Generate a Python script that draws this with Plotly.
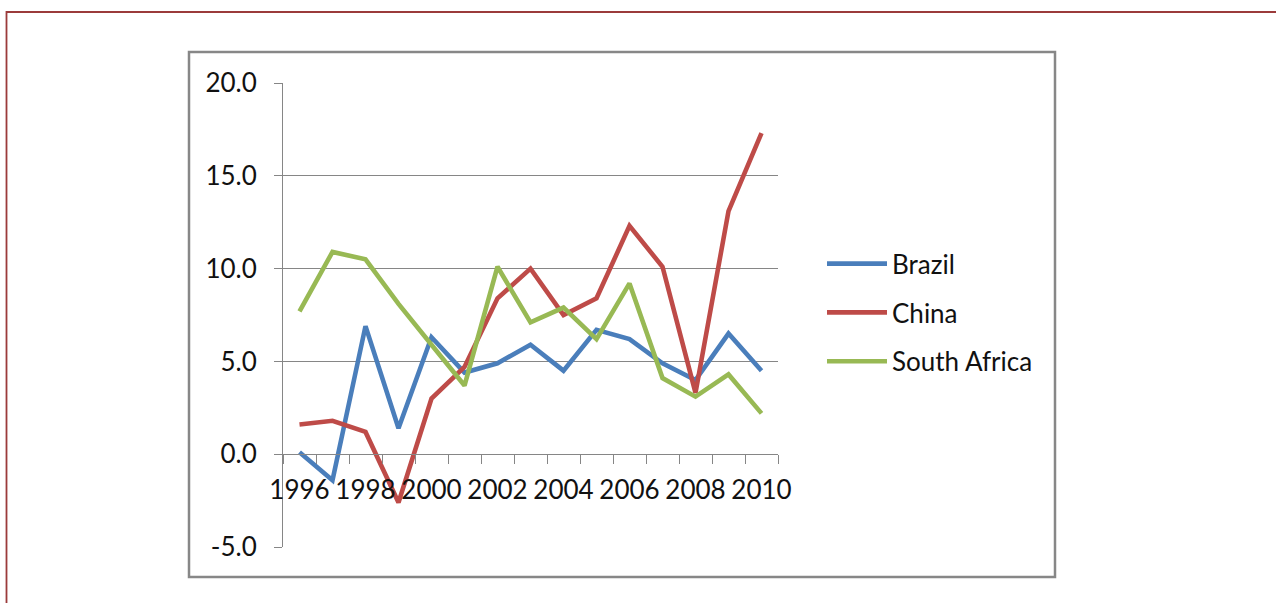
import plotly.graph_objects as go

years = [1996, 1997, 1998, 1999, 2000, 2001, 2002, 2003, 2004, 2005, 2006, 2007, 2008, 2009, 2010]
brazil = [0.1, -1.4, 6.9, 1.4, 6.3, 4.4, 4.9, 5.9, 4.5, 6.7, 6.2, 4.9, 4.0, 6.5, 4.5]
china = [1.6, 1.8, 1.2, -2.6, 3.0, 4.7, 8.4, 10.0, 7.5, 8.4, 12.3, 10.1, 3.3, 13.1, 17.3]
south_africa = [7.7, 10.9, 10.5, 8.1, 5.9, 3.7, 10.1, 7.1, 7.9, 6.2, 9.2, 4.1, 3.1, 4.3, 2.2]
x_tick_years = [1996, 1998, 2000, 2002, 2004, 2006, 2008, 2010]
y_ticks = [-5, 0, 5, 10, 15, 20]

W, H = 1276, 603
L, R, T, B = 283, 498, 83, 56
PW, PH = W - L - R, H - T - B

def px(x):
    return (x - L) / PW

def py(y):
    return (H - B - y) / PH

FONT = "Lato"
FS = 26
GRID = "#868686"
TXT = "#111111"

fig = go.Figure()
series = [("Brazil", brazil, "#4A7EBB"), ("China", china, "#BE4B48"), ("South Africa", south_africa, "#98B954")]
for name, vals, col in series:
    fig.add_trace(go.Scatter(x=years, y=vals, name=name, mode="lines",
                             line=dict(color=col, width=4.6), legendgroup=name))

fig.update_layout(
    width=W, height=H,
    margin=dict(l=L, r=R, t=T, b=B, autoexpand=False),
    paper_bgcolor="white", plot_bgcolor="white",
    font=dict(family=FONT, size=FS, color=TXT),
    showlegend=True,
    legend=dict(x=px(822), xanchor="left", y=0.505, yanchor="middle", itemwidth=60,
                font=dict(family=FONT, size=FS, color=TXT),
                tracegroupgap=12, bgcolor="rgba(0,0,0,0)"),
    xaxis=dict(range=[1995.5, 2010.5], tickmode="array", tickvals=x_tick_years,
               ticktext=[str(v) for v in x_tick_years], showgrid=False, zeroline=False,
               showline=True, linecolor=GRID, linewidth=1, ticks="",
               anchor="free", position=0.2, ticklabelstandoff=13,
               minor=dict(tick0=1995.5, dtick=1, ticks="outside", ticklen=9, tickcolor=GRID, showgrid=False),
               tickfont=dict(family=FONT, size=FS, color=TXT)),
    yaxis=dict(range=[-5, 20], tickmode="array", tickvals=y_ticks,
               ticktext=["%.1f" % v for v in y_ticks], showgrid=True, gridcolor=GRID, gridwidth=1,
               zeroline=False, showline=True, linecolor=GRID, linewidth=1,
               ticks="outside", ticklen=8, tickcolor=GRID, ticklabelstandoff=12,
               tickfont=dict(family=FONT, size=FS, color=TXT)),
)

fig.add_shape(type="rect", xref="paper", yref="paper",
              x0=px(189), x1=px(1055), y0=py(577), y1=py(52),
              line=dict(color="#878787", width=2.5), layer="below")
fig.add_shape(type="rect", xref="paper", yref="paper",
              x0=px(6.5), x1=px(1300), y0=py(640), y1=py(12),
              line=dict(color="#9B3B3B", width=1.8), layer="below")

fig.write_html("out.html", config={"displayModeBar": False},
               post_script="document.body.style.margin='0';")
